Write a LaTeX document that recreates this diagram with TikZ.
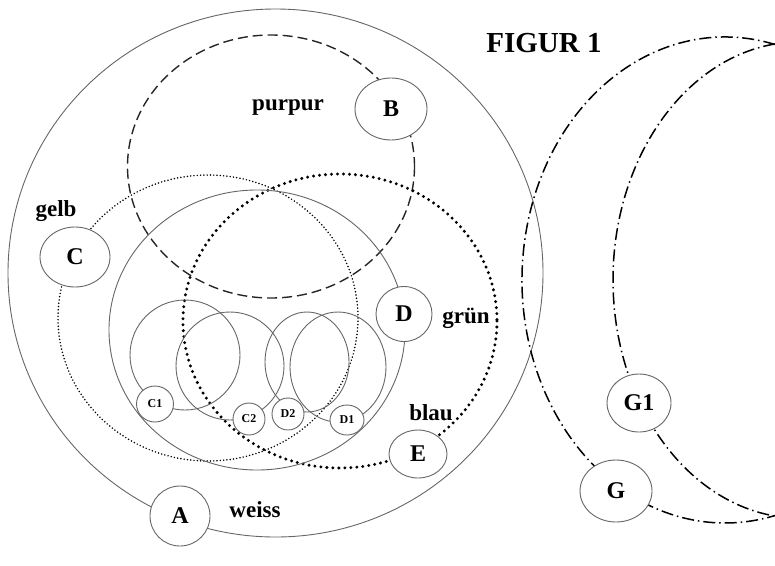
\documentclass[tikz,border=0pt]{standalone}
\usepackage{fontspec}
\setmainfont{Liberation Serif}
\usetikzlibrary{shapes.geometric}

\begin{document}
\begin{tikzpicture}[
        x=1pt, y=-1pt,
        setnode/.style={ellipse, draw=black!60, line width=0.9pt, fill=white, inner sep=0pt, font=\bfseries\fontsize{24}{24}\selectfont},
        subnode/.style={setnode, font=\bfseries\fontsize{12}{12}\selectfont},
        tag/.style={anchor=base, inner sep=0pt, font=\bfseries\fontsize{23}{23}\selectfont},
        solidline/.style={draw=black!60, line width=0.9pt},
        dashline/.style={draw=black!85, line width=1.4pt, dash pattern=on 10pt off 5pt},
        fineline/.style={draw=black, line width=1.7pt, line cap=round, dash pattern=on 0pt off 3.3pt},
        dotline/.style={draw=black, line width=3.3pt, line cap=round, dash pattern=on 0pt off 6pt},
        dashdotline/.style={draw=black, line width=1.5pt, dash pattern=on 12pt off 4pt on 1.5pt off 4pt}
    ]
        \useasboundingbox (0,0) rectangle (775,565);

        % sets
        \draw[solidline] (275.5,273) ellipse[x radius=267.5, y radius=264];
        \draw[dashline] (271,166.5) ellipse[x radius=143.5, y radius=131.5];
        \draw[fineline] (208,318) ellipse[x radius=150, y radius=143];
        \draw[dotline] (340,321) ellipse[x radius=157, y radius=147];
        \draw[solidline] (257,330) ellipse[x radius=148, y radius=140];

        % subsets
        \draw[solidline] (185,355) circle[radius=55];
        \draw[solidline] (230,366) circle[radius=54];
        \draw[solidline] (307,362) ellipse[x radius=42, y radius=50];
        \draw[solidline] (338,367) ellipse[x radius=48, y radius=55];

        % crescent
        \draw[dashdotline] (725,280) ++(-75.74:203 and 243) arc[start angle=-75.74, end angle=-284.26, x radius=203, y radius=243];
        \draw[dashdotline] (800,280) ++(-97.68:187 and 238.2) arc[start angle=-97.68, end angle=-262.32, x radius=187, y radius=238.2];

        \node[setnode, minimum width=60pt, minimum height=60pt] (A) at (180,516) {A};
        \node[setnode, minimum width=72pt, minimum height=62pt] (B) at (391,109) {B};
        \node[setnode, minimum width=70pt, minimum height=60pt] (C) at (75,257) {C};
        \node[setnode, minimum width=56pt, minimum height=55pt] (D) at (404,314) {D};
        \node[setnode, minimum width=58pt, minimum height=48pt] (E) at (418,454) {E};
        \node[setnode, minimum width=64pt, minimum height=58pt] (G1) at (639,403) {G1};
        \node[setnode, minimum width=72pt, minimum height=62pt] (G) at (616,491) {G};

        \node[subnode, minimum width=37pt, minimum height=36pt] (C1) at (155,404) {C1};
        \node[subnode, minimum width=32pt, minimum height=32pt] (C2) at (249,419) {C2};
        \node[subnode, minimum width=32pt, minimum height=32pt] (D2) at (288,414) {D2};
        \node[subnode, minimum width=34pt, minimum height=30pt] (D1) at (347,420) {D1};

        \node[tag] (weiss) at (255,517) {weiss};
        \node[tag] (purpur) at (288,110) {purpur};
        \node[tag] (gelb) at (56,216) {gelb};
        \node[tag] (gruen) at (466,323) {grün};
        \node[tag] (blau) at (431,420) {blau};
        \node[anchor=base, inner sep=0pt, font=\bfseries\fontsize{29}{29}\selectfont] (title) at (544,52) {FIGUR 1};
    \end{tikzpicture}
\end{document}
